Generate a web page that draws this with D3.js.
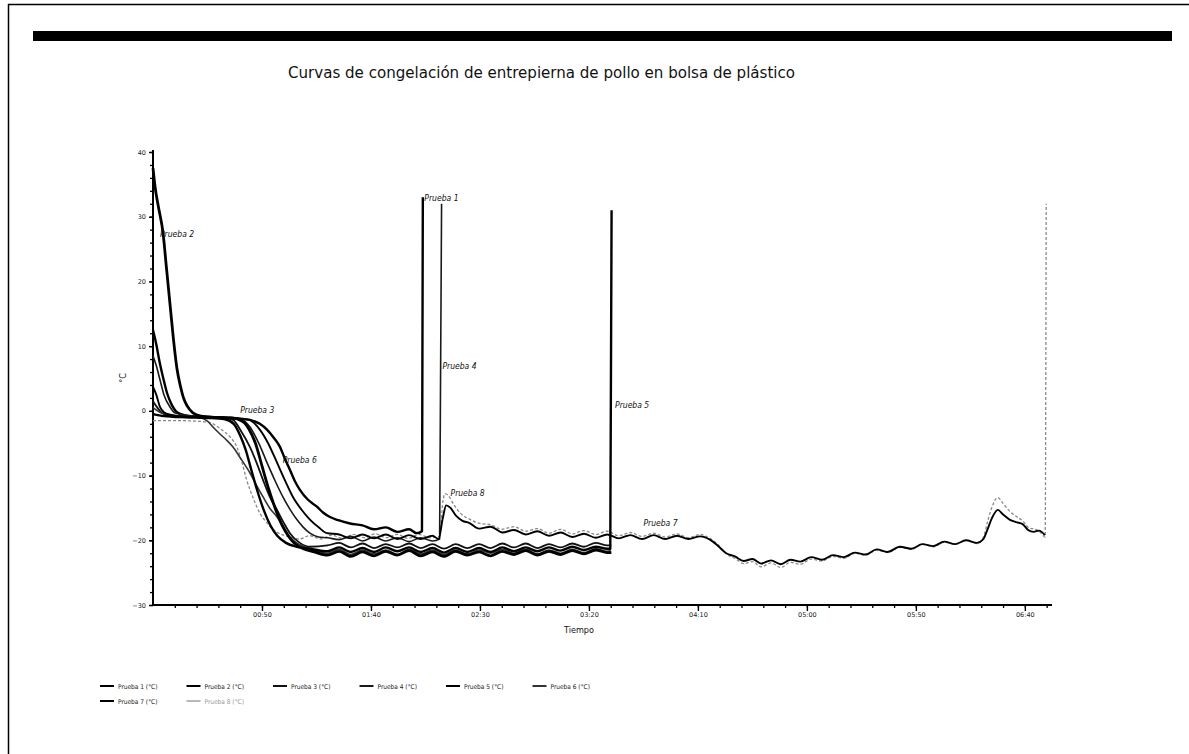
<!DOCTYPE html>
<html><head><meta charset="utf-8">
<script src="https://cdn.jsdelivr.net/npm/d3@7"></script>
<style>body{margin:0;background:#fff}svg{display:block}</style>
</head><body>
<script>
// ---------- DATA ----------
const title = "Curvas de congelación de entrepierna de pollo en bolsa de plástico";
const xTickValues = [50,100,150,200,250,300,350,400];
const xTickLabels = ["00:50","01:40","02:30","03:20","04:10","05:00","05:50","06:40"];
const yTickValues = [40,30,20,10,0,-10,-20,-30];
const seriesNames = ["Prueba 1","Prueba 2","Prueba 3","Prueba 4","Prueba 5","Prueba 6","Prueba 7","Prueba 8"];
const legendLabels = ["Prueba 1 (°C)","Prueba 2 (°C)","Prueba 3 (°C)","Prueba 4 (°C)","Prueba 5 (°C)","Prueba 6 (°C)","Prueba 7 (°C)","Prueba 8 (°C)"];

// shared sample times of the freezer cycling (minutes)
const cycleTimes = [80,85.4,90.7,96.1,101.4,106.8,112.1,117.5,122.8,128.2,133.5,138.9,144.2,149.6,154.9,160.3,165.6,171,176.3,181.7,187,192.4,197.7,203.1,208.4];

const prueba1 = [[0,12.5],[1.5,10.3],[3,7.6],[4.6,5.2],[6.4,2.8],[8.5,1],[11,-0.2],[15,-0.7],[20,-0.9],[30,-1],[40,-1.2],[44.5,-1.4],[49,-2],[52.3,-2.9],[55.5,-4.2],[58.3,-5.6],[60.5,-7.4],[62.8,-9.1],[65,-10.8],[67.4,-12.2],[71,-13.7],[75.2,-14.8],[78,-15.7],[81.2,-16.4],[85,-16.9],[90.4,-17.4],[96.1,-17.7],[101.4,-18.3],[106.8,-18],[112.1,-18.7],[117.5,-18.3],[121,-18.9],[123.4,-18.6],[123.8,33]];

const prueba2Head = [[0,37.5],[1,34.5],[2.5,31.5],[4.6,27.5],[6.2,22],[7.8,16.5],[9.4,11],[11,6.5],[12.6,3.8],[14,2],[15.6,0.8],[18.3,-0.3],[22,-0.8],[28,-1],[36,-1.1],[41,-1.6],[44,-2.8],[47,-5],[50,-8.5],[53,-12],[56,-15],[59,-17.5],[62,-19.3],[65,-20.5],[69,-21.3],[74,-21.8]];
const prueba2Cycle = [-22.3,-21.7,-22.5,-21.8,-22.4,-21.7,-22.3,-21.6,-22.4,-21.8,-22.5,-21.7,-22.3,-21.8,-22.4,-21.7,-22.2,-21.6,-22.3,-21.7,-22.2,-21.6,-22.1,-21.5,-21.9];

const prueba3Head = [[0,1.5],[2,0.5],[4,-0.3],[8,-0.8],[15,-0.9],[25,-1],[33,-1.1],[36.7,-1.4],[40.5,-3.2],[44.5,-5.6],[47.5,-8],[50.5,-10.7],[53.5,-13.2],[56.9,-15.3],[60,-17.3],[62.8,-18.9],[67.4,-20.4],[72,-21]];
const prueba3Cycle = [-20.8,-20.4,-21.1,-20.5,-21.2,-20.6,-21.1,-20.5,-21.2,-20.6,-21.3,-20.6,-21.2,-20.6,-21.2,-20.5,-21.1,-20.5,-21.2,-20.6,-21.1,-20.5,-21,-20.4,-20.8];

const prueba4 = [[0,8.5],[1.5,7],[3.2,4.8],[5,2.5],[7.8,0.6],[10,-0.3],[15,-0.7],[25,-0.9],[35,-1.1],[41,-1.4],[44.5,-2.5],[48.5,-5],[52.3,-8],[56,-10.8],[59.6,-13.3],[63,-15.3],[66,-16.8],[69,-18],[72,-18.9],[76,-19.5],[80,-19.6],[85.4,-19.9],[90.7,-19.4],[96.1,-20.1],[101.4,-19.5],[106.8,-20.1],[112.1,-19.6],[117.5,-20.2],[122.8,-19.6],[128.2,-20.1],[131.5,-19.8],[132.4,32]];

const prueba5Head = [[0,-0.5],[5,-0.8],[15,-1],[25,-1.1],[33,-1.3],[37,-2],[40,-3.8],[42.5,-6],[45,-9],[48,-12.5],[51,-15.5],[54,-17.8],[57,-19.3],[61,-20.4],[66,-21],[72,-21.3]];
const prueba5Cycle = [-21.7,-21.1,-21.8,-21.2,-21.8,-21.1,-21.7,-21.1,-21.8,-21.2,-21.9,-21.2,-21.8,-21.2,-21.8,-21.1,-21.7,-21.1,-21.7,-21.1,-21.6,-21,-21.5,-21,-21.3];
const prueba5Tail = [[209.8,-21.3],[210.4,31]];

const prueba6Head = [[0,0.5],[3,-0.2],[8,-0.7],[15,-0.9],[22,-1.1],[25,-1.6],[27.5,-2.5],[30.5,-3.5],[33.7,-4.5],[36.7,-5.6],[40.5,-7.5],[44.5,-9.6],[47.5,-11.5],[50.5,-13.3],[53.5,-15],[56.9,-16.4],[60,-18],[62.8,-19.5],[67.4,-20.7],[72,-21.3]];
const prueba6Cycle = [-22,-21.4,-22.2,-21.5,-22.1,-21.5,-22.2,-21.4,-22.1,-21.5,-22.2,-21.5,-22.1,-21.5,-22,-21.4,-22,-21.4,-22.1,-21.5,-22,-21.4,-21.9,-21.3,-21.7];

const prueba7 = [[0,3.7],[1.5,2.5],[3.2,0.6],[5,-0.2],[8,-0.6],[15,-0.9],[25,-1],[35,-1.1],[44,-1.4],[49,-2.9],[52.8,-5],[56.9,-8],[60.5,-10.7],[64.2,-13.3],[68,-15.2],[72,-16.8],[76,-18],[79.8,-18.9],[85.4,-19.1],[90.7,-19.7],[96.1,-19.1],[101.4,-19.7],[106.8,-19.1],[112.1,-19.8],[117.5,-19.2],[122.8,-19.8],[128.2,-19.3],[131,-19.8],[133,-16.5],[134.5,-14.6],[136.5,-15],[139,-16.2],[142,-17],[145,-17.3],[149.6,-18.2],[154.9,-17.9],[160.3,-18.8],[165.6,-18.4],[171,-19.1],[176.3,-18.6],[181.7,-19.3],[187,-18.8],[192.4,-19.5],[197.7,-19],[203.1,-19.6],[208.4,-19.1],[213.7,-19.7],[219,-19.2],[224.4,-19.8],[229.7,-19.2],[235,-19.8],[240.4,-19.3],[245.7,-19.8],[251,-19.4],[255.5,-19.9],[259,-20.8],[263,-22],[267,-22.5],[271,-23.2],[275,-22.9],[279,-23.6],[283.5,-23.1],[288,-23.7],[292.5,-23],[297,-23.3],[302,-22.6],[307,-23],[312,-22.3],[317,-22.6],[322,-21.9],[327,-22.2],[332,-21.4],[337,-21.8],[342.7,-21],[348,-21.3],[353,-20.6],[358,-20.9],[363,-20.2],[368,-20.6],[373,-20],[378,-20.4],[381,-19.8],[383,-18.2],[385,-16.5],[387.6,-15.3],[390,-16],[393,-16.8],[396,-17.2],[399,-17.5],[401.5,-18.4],[404,-18.7],[406.5,-18.5],[409.2,-19.2]];

const prueba8 = [[0,-1.5],[10,-1.5],[20,-1.6],[26,-1.8],[31,-2.8],[35.3,-4],[38.5,-5.6],[41,-8.2],[43,-10.7],[46,-13.5],[49,-15.8],[52.3,-17.3],[55,-18.3],[58.3,-19],[63,-19.5],[67,-19.8],[72,-19.3],[77,-19.8],[82,-19.2],[87,-19.7],[92,-19.1],[97,-19.6],[102,-19],[107,-19.6],[112,-19.1],[117,-19.7],[122,-19.1],[127,-19.6],[131.5,-19.4],[133,-14],[134,-12.8],[135.5,-13.1],[138,-14.5],[141,-15.8],[145,-16.7],[150,-17.4],[155,-17.6],[160,-18.3],[165.6,-17.9],[171,-18.6],[176.3,-18.2],[181.7,-18.9],[187,-18.3],[192.4,-19],[197.7,-18.5],[203.1,-19.1],[208.4,-18.6],[213.7,-19.3],[219,-18.8],[224.4,-19.4],[229.7,-18.9],[235,-19.5],[240.4,-19],[245.7,-19.6],[251,-19.1],[255.5,-19.7],[259,-20.6],[263,-22.1],[267,-22.8],[271,-23.6],[275,-23.3],[279,-24.1],[283.5,-23.5],[288,-24.2],[292.5,-23.4],[297,-23.7],[302,-22.9],[307,-23.2],[312,-22.5],[317,-22.8],[322,-22],[327,-22.3],[332,-21.5],[337,-21.9],[342.7,-21.1],[348,-21.4],[353,-20.6],[358,-21],[363,-20.3],[368,-20.6],[373,-20],[378,-20.5],[381,-19.5],[383,-17],[385,-14.8],[387.6,-13.4],[390,-14.3],[393,-15.5],[396,-16.3],[399,-17],[402,-18.1],[405,-18.3],[407.5,-18.9],[409.3,-19.5],[409.8,32]];

// annotation anchors (time, temperature)
const annotations = [
  {text:"Prueba 1", t:124.5, T:32.5},
  {text:"Prueba 2", t:3.2, T:26.8},
  {text:"Prueba 3", t:40, T:-0.3},
  {text:"Prueba 4", t:132.8, T:6.5},
  {text:"Prueba 5", t:212, T:0.5},
  {text:"Prueba 6", t:59.5, T:-8.1},
  {text:"Prueba 7", t:225, T:-17.8},
  {text:"Prueba 8", t:136.5, T:-13.2}
];

// ---------- BUILD ----------
const withCycle = (head, vals, tail) => head.concat(cycleTimes.map((t,i)=>[t,vals[i]])).concat(tail||[]);
const seriesData = [
  prueba1,
  withCycle(prueba2Head, prueba2Cycle, [[210.3,-21.9]]),
  withCycle(prueba3Head, prueba3Cycle, [[210.2,-20.7]]),
  prueba4,
  withCycle(prueba5Head, prueba5Cycle, prueba5Tail),
  withCycle(prueba6Head, prueba6Cycle, [[210.1,-21.6]]),
  prueba7,
  prueba8
];
const styles = [
  {c:"#000", w:2.4, d:null},
  {c:"#000", w:2.8, d:null},
  {c:"#111", w:1.8, d:null},
  {c:"#1a1a1a", w:1.6, d:null},
  {c:"#000", w:2.4, d:null},
  {c:"#333", w:1.6, d:null},
  {c:"#000", w:1.9, d:null},
  {c:"#8a8a8a", w:1.3, d:"3,2"}
];

const W = 1189, H = 754;
const svg = d3.select("body").append("svg").attr("width", W).attr("height", H);

// frame
svg.append("line").attr("x1",8).attr("y1",4.5).attr("x2",W).attr("y2",4.5).attr("stroke","#000").attr("stroke-width",1.5);
svg.append("line").attr("x1",8.5).attr("y1",4).attr("x2",8.5).attr("y2",H).attr("stroke","#000").attr("stroke-width",1.5);
svg.append("rect").attr("x",33).attr("y",31).attr("width",1139).attr("height",10).attr("fill","#000");

// title
svg.append("text").attr("x",288).attr("y",78).attr("font-family","DejaVu Sans Condensed, DejaVu Sans, sans-serif")
  .attr("font-size",16).attr("fill","#111").attr("textLength",507).attr("lengthAdjust","spacingAndGlyphs").text(title);

const x = d3.scaleLinear().domain([0,412]).range([153,1051]);
const y = d3.scaleLinear().domain([-30,40]).range([605,152]);

// minor ticks
svg.append("g").attr("transform","translate(0,605)")
  .call(d3.axisBottom(x).tickValues(d3.range(10,412,10)).tickSize(3).tickFormat(""))
  .call(g=>g.select(".domain").remove())
  .call(g=>g.selectAll("line").attr("stroke","#000").attr("stroke-width",1.3));
svg.append("g").attr("transform","translate(153,0)")
  .call(d3.axisLeft(y).tickValues(d3.range(-30,41,2)).tickSize(3).tickFormat(""))
  .call(g=>g.select(".domain").remove())
  .call(g=>g.selectAll("line").attr("stroke","#000").attr("stroke-width",1.3));

// major axes
const xAxis = svg.append("g").attr("transform","translate(0,605)")
  .call(d3.axisBottom(x).tickValues(xTickValues).tickFormat((d,i)=>xTickLabels[i]).tickSize(6).tickSizeOuter(0));
xAxis.select(".domain").attr("stroke","#000").attr("stroke-width",2.2).attr("d","M153,0H1052");
xAxis.selectAll("line").attr("stroke","#000").attr("stroke-width",1.4);
xAxis.selectAll("text").attr("font-family","DejaVu Sans, sans-serif").attr("font-size",6.5).attr("fill","#222").attr("dy","0.5em");

const yAxis = svg.append("g").attr("transform","translate(153,0)")
  .call(d3.axisLeft(y).tickValues(yTickValues).tickSize(4).tickSizeOuter(0));
yAxis.select(".domain").attr("stroke","#000").attr("stroke-width",2).attr("d","M0,150V606");
yAxis.selectAll("line").attr("stroke","#000").attr("stroke-width",1.4);
yAxis.selectAll("text").attr("font-family","DejaVu Sans, sans-serif").attr("font-size",6.5).attr("fill","#222");

// axis titles
svg.append("text").attr("x",579).attr("y",633).attr("text-anchor","middle").attr("font-family","DejaVu Sans Condensed, DejaVu Sans, sans-serif").attr("font-size",9).attr("fill","#111").text("Tiempo");
svg.append("text").attr("transform","translate(126,378) rotate(-90)").attr("text-anchor","middle").attr("font-family","DejaVu Sans, sans-serif").attr("font-size",8).attr("fill","#111").text("°C");

// lines
const line = d3.line().x(d=>x(d[0])).y(d=>y(d[1])).curve(d3.curveMonotoneX);
const order = [7,0,3,2,5,4,6,1];
svg.append("g").selectAll("path").data(order).join("path")
  .attr("d", i=>line(seriesData[i]))
  .attr("fill","none")
  .attr("stroke", i=>styles[i].c)
  .attr("stroke-width", i=>styles[i].w)
  .attr("stroke-dasharray", i=>styles[i].d)
  .attr("stroke-linejoin","round");

// annotations
svg.append("g").selectAll("text").data(annotations).join("text")
  .attr("x", d=>x(d.t)).attr("y", d=>y(d.T))
  .attr("font-family","DejaVu Sans Condensed, DejaVu Sans, sans-serif").attr("font-style","italic")
  .attr("font-size",8.5).attr("fill","#111").text(d=>d.text);

// legend
const lg = svg.append("g").selectAll("g").data(legendLabels).join("g")
  .attr("transform",(d,i)=>`translate(${100 + (i%6)*86.5},${686 + Math.floor(i/6)*15})`);
lg.append("line").attr("x1",0).attr("x2",14).attr("y1",0).attr("y2",0)
  .attr("stroke",(d,i)=>styles[i].c).attr("stroke-width",(d,i)=>i===7?1.2:2);
lg.append("text").attr("x",18).attr("y",2.5).attr("font-family","DejaVu Sans Condensed, DejaVu Sans, sans-serif")
  .attr("font-size",6.5).attr("fill",(d,i)=>i===7?"#999":"#222").text(d=>d);
</script>
</body></html>
